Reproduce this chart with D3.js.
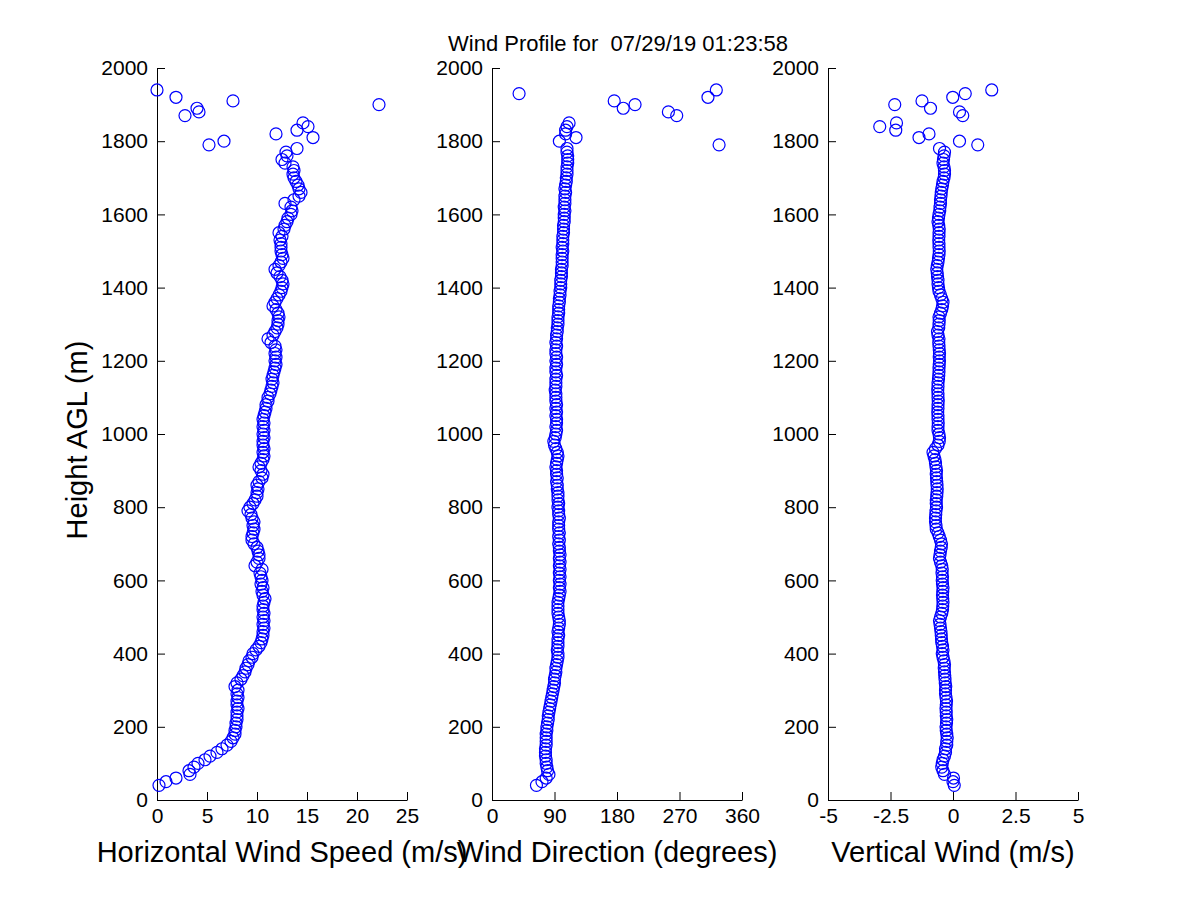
<!DOCTYPE html>
<html>
<head>
<meta charset="utf-8">
<script src="https://cdn.jsdelivr.net/npm/d3@7"></script>
<style>
  body { margin: 0; background: #fff; }
  svg { font-family: "Liberation Sans", Arial, sans-serif; }
  .tick line, .domain { stroke: #000; stroke-width: 1; }
</style>
</head>
<body>
<div id="chart"></div>
<script>
// Wind profile, three panels sharing the height axis

var heights = [
  40, 50, 60, 70, 80, 90, 100, 110, 120, 130,
  140, 150, 160, 170, 180, 190, 200, 210, 220, 230,
  240, 250, 260, 270, 280, 290, 300, 310, 320, 330,
  340, 350, 360, 370, 380, 390, 400, 410, 420, 430,
  440, 450, 460, 470, 480, 490, 500, 510, 520, 530,
  540, 550, 560, 570, 580, 590, 600, 610, 620, 630,
  640, 650, 660, 670, 680, 690, 700, 710, 720, 730,
  740, 750, 760, 770, 780, 790, 800, 810, 820, 830,
  840, 850, 860, 870, 880, 890, 900, 910, 920, 930,
  940, 950, 960, 970, 980, 990, 1000, 1010, 1020, 1030,
  1040, 1050, 1060, 1070, 1080, 1090, 1100, 1110, 1120, 1130,
  1140, 1150, 1160, 1170, 1180, 1190, 1200, 1210, 1220, 1230,
  1240, 1250, 1260, 1270, 1280, 1290, 1300, 1310, 1320, 1330,
  1340, 1350, 1360, 1370, 1380, 1390, 1400, 1410, 1420, 1430,
  1440, 1450, 1460, 1470, 1480, 1490, 1500, 1510, 1520, 1530,
  1540, 1550, 1560, 1570, 1580, 1590, 1600, 1610, 1620, 1630,
  1640, 1650, 1660, 1670, 1680, 1690, 1700, 1710, 1720, 1730,
  1740, 1750, 1760, 1770, 1780, 1790, 1800, 1810, 1820, 1830,
  1840, 1850, 1860, 1870, 1880, 1890, 1900, 1910, 1920, 1930,
  1940
];

// horizontal wind speed (m/s)
var speed = [
  0.2, 0.9, 1.9, 3.3, 3.2, 3.7, 4.1, 4.8, 5.3, 6.0,
  6.5, 7.0, 7.4, 7.6, 7.8, 7.8, 7.9, 7.9, 8.0, 8.0,
  8.0, 8.1, 8.0, 8.0, 8.1, 8.0, 8.1, 7.8, 8.0, 8.4,
  8.6, 8.8, 8.9, 9.1, 9.2, 9.5, 9.6, 9.9, 10.2, 10.4,
  10.5, 10.6, 10.6, 10.7, 10.6, 10.7, 10.6, 10.7, 10.6, 10.6,
  10.7, 10.8, 10.6, 10.5, 10.6, 10.4, 10.5, 10.4, 10.3, 10.5,
  9.8, 10.0, 10.2, 10.2, 10.1, 10.0, 9.7, 9.5, 9.5, 9.6,
  9.7, 9.6, 9.7, 9.5, 9.4, 9.1, 9.3, 9.6, 9.8, 10.0,
  10.0, 10.1, 10.0, 10.2, 10.5, 10.6, 10.4, 10.2, 10.4, 10.6,
  10.7, 10.6, 10.7, 10.6, 10.6, 10.7, 10.6, 10.7, 10.6, 10.7,
  10.6, 10.7, 10.8, 10.9, 10.9, 11.1, 11.1, 11.3, 11.4, 11.5,
  11.6, 11.5, 11.6, 11.7, 11.8, 11.9, 11.8, 11.9, 11.8, 11.9,
  11.8, 11.4, 11.1, 11.6, 11.8, 12.0, 12.1, 12.1, 12.2, 12.1,
  11.9, 11.6, 11.8, 12.0, 12.2, 12.4, 12.5, 12.6, 12.5, 12.3,
  12.0, 11.8, 12.2, 12.4, 12.6, 12.5, 12.4, 12.4, 12.4, 12.3,
  12.5, 12.2, 12.7, 12.8, 13.0, 13.1, 13.4, 13.5, 13.4, 12.8,
  13.7, 14.2, 14.4, 14.2, 14.1, 13.9, 13.7, 13.6, 13.7, 13.6,
  12.8, 12.5, 13.0, 12.9, 14.0, 5.2, 6.7, 15.6, 11.9, 14.0,
  15.1, 14.6, null, 2.8, 4.2, 4.0, 22.2, 7.6, 1.9, null,
  0.0
];

// wind direction (degrees)
var direction = [
  64, 72, 78, 82, 80, 79, 78, 78, 77, 77,
  77, 78, 78, 78, 78, 79, 79, 80, 81, 81,
  82, 83, 84, 85, 86, 87, 88, 89, 90, 90,
  91, 92, 92, 93, 94, 95, 95, 94, 95, 95,
  95, 96, 95, 96, 97, 97, 96, 95, 95, 95,
  95, 96, 97, 98, 97, 98, 97, 98, 97, 98,
  97, 98, 97, 98, 97, 97, 96, 97, 96, 97,
  96, 96, 96, 97, 96, 96, 95, 96, 95, 95,
  95, 94, 94, 93, 94, 93, 93, 92, 93, 94,
  95, 94, 92, 90, 89, 91, 92, 93, 92, 93,
  93, 92, 93, 92, 93, 92, 92, 92, 91, 92,
  92, 92, 93, 92, 92, 93, 92, 93, 92, 92,
  93, 92, 93, 93, 94, 94, 95, 95, 95, 96,
  96, 96, 97, 97, 98, 98, 99, 99, 99, 100,
  100, 100, 101, 101, 101, 101, 102, 101, 102, 102,
  102, 103, 103, 103, 104, 104, 104, 105, 104, 105,
  105, 105, 106, 105, 106, 107, 107, 108, 108, 108,
  109, 109, 109, 108, 108, 327, 97, 121, 106, 106,
  108, 111, null, 266, 254, 189, 206, 176, 311, 39,
  323
];

// vertical wind (m/s)
var vertical = [
  0.05, 0.0, 0.02, -0.34, -0.4, -0.45, -0.43, -0.4, -0.34, -0.3,
  -0.3, -0.25, -0.25, -0.23, -0.25, -0.27, -0.28, -0.26, -0.25, -0.27,
  -0.27, -0.28, -0.27, -0.26, -0.28, -0.3, -0.3, -0.29, -0.31, -0.32,
  -0.33, -0.34, -0.35, -0.34, -0.36, -0.4, -0.43, -0.4, -0.42, -0.45,
  -0.46, -0.47, -0.48, -0.5, -0.52, -0.54, -0.5, -0.45, -0.42, -0.41,
  -0.4, -0.41, -0.42, -0.41, -0.4, -0.42, -0.43, -0.42, -0.44, -0.43,
  -0.45, -0.5, -0.54, -0.52, -0.5, -0.47, -0.46, -0.5, -0.55, -0.6,
  -0.67, -0.68, -0.7, -0.7, -0.69, -0.68, -0.66, -0.67, -0.67, -0.65,
  -0.64, -0.63, -0.64, -0.65, -0.66, -0.67, -0.66, -0.68, -0.7, -0.72,
  -0.76, -0.8, -0.7, -0.6, -0.55, -0.54, -0.56, -0.6, -0.6, -0.59,
  -0.6, -0.6, -0.61, -0.6, -0.6, -0.59, -0.6, -0.6, -0.61, -0.6,
  -0.6, -0.58, -0.57, -0.56, -0.56, -0.55, -0.54, -0.55, -0.54, -0.55,
  -0.56, -0.57, -0.56, -0.6, -0.62, -0.57, -0.56, -0.55, -0.56, -0.5,
  -0.45, -0.42, -0.4, -0.45, -0.5, -0.56, -0.58, -0.6, -0.6, -0.62,
  -0.63, -0.65, -0.63, -0.6, -0.58, -0.56, -0.55, -0.56, -0.56, -0.57,
  -0.56, -0.56, -0.55, -0.57, -0.6, -0.58, -0.56, -0.53, -0.52, -0.5,
  -0.5, -0.48, -0.47, -0.45, -0.42, -0.4, -0.36, -0.34, -0.34, -0.36,
  -0.4, -0.38, -0.36, -0.34, -0.54, 0.99, 0.26, -1.36, -0.96, -2.29,
  -2.93, -2.26, null, 0.39, 0.26, -0.90, -2.33, -1.24, -0.01, 0.49,
  1.55
];

var heightTicks = [0, 200, 400, 600, 800, 1000, 1200, 1400, 1600, 1800, 2000];
var speedTicks = [0, 5, 10, 15, 20, 25];
var directionTicks = [0, 90, 180, 270, 360];
var verticalTicks = [-5, -2.5, 0, 2.5, 5];

var titleText = "Wind Profile for  07/29/19 01:23:58";

var width = 1200,
  height = 900;

var svg = d3.select("#chart").append("svg")
  .attr("width", width)
  .attr("height", height);

var plotTop = 68, plotBottom = 800, panelWidth = 250;

var y = d3.scaleLinear().domain([0, 2000]).range([plotBottom, plotTop]);

var panels = [
  { left: 157, domain: [0, 25], ticks: speedTicks, values: speed, label: "Horizontal Wind Speed (m/s)" },
  { left: 492, domain: [0, 360], ticks: directionTicks, values: direction, label: "Wind Direction (degrees)" },
  { left: 828, domain: [-5, 5], ticks: verticalTicks, values: vertical, label: "Vertical Wind (m/s)" }
];

panels.forEach(function (p) {
  var x = d3.scaleLinear().domain(p.domain).range([p.left, p.left + panelWidth]);
  var g = svg.append("g");

  // inward ticks, matlab style
  g.append("g")
    .attr("transform", "translate(" + p.left + ",0)")
    .call(d3.axisLeft(y).tickValues(heightTicks).tickFormat(function (d) { return String(d); })
      .tickSizeInner(-8).tickSizeOuter(0).tickPadding(9))
    .call(function (a) {
      a.attr("font-family", null).attr("font-size", null);
      a.selectAll("text").style("font-size", "21px").attr("fill", "#000");
    });

  g.append("g")
    .attr("transform", "translate(0," + plotBottom + ")")
    .call(d3.axisBottom(x).tickValues(p.ticks).tickFormat(function (d) { return String(d); })
      .tickSizeInner(-8).tickSizeOuter(0).tickPadding(8))
    .call(function (a) {
      a.attr("font-family", null).attr("font-size", null);
      a.selectAll("text").style("font-size", "21px").attr("fill", "#000");
    });

  var pts = heights.map(function (h, i) { return { h: h, v: p.values[i] }; })
    .filter(function (d) { return d.v !== null; });

  // open circle markers
  g.append("g")
    .selectAll("circle")
    .data(pts)
    .enter()
    .append("circle")
    .attr("cx", function (d) { return x(d.v); })
    .attr("cy", function (d) { return y(d.h); })
    .attr("r", 6)
    .attr("fill", "none")
    .attr("stroke", "#0000ff")
    .attr("stroke-width", 1.2);

  g.append("text")
    .attr("x", p.left + panelWidth / 2)
    .attr("y", 862)
    .attr("text-anchor", "middle")
    .style("font-size", "29px")
    .text(p.label);
});

svg.append("text")
  .attr("transform", "translate(87,440) rotate(-90)")
  .attr("text-anchor", "middle")
  .style("font-size", "29px")
  .text("Height AGL (m)");

svg.append("text")
  .attr("x", 618)
  .attr("y", 51)
  .attr("text-anchor", "middle")
  .style("font-size", "22px")
  .style("white-space", "pre")
  .text(titleText);
</script>
</body>
</html>
